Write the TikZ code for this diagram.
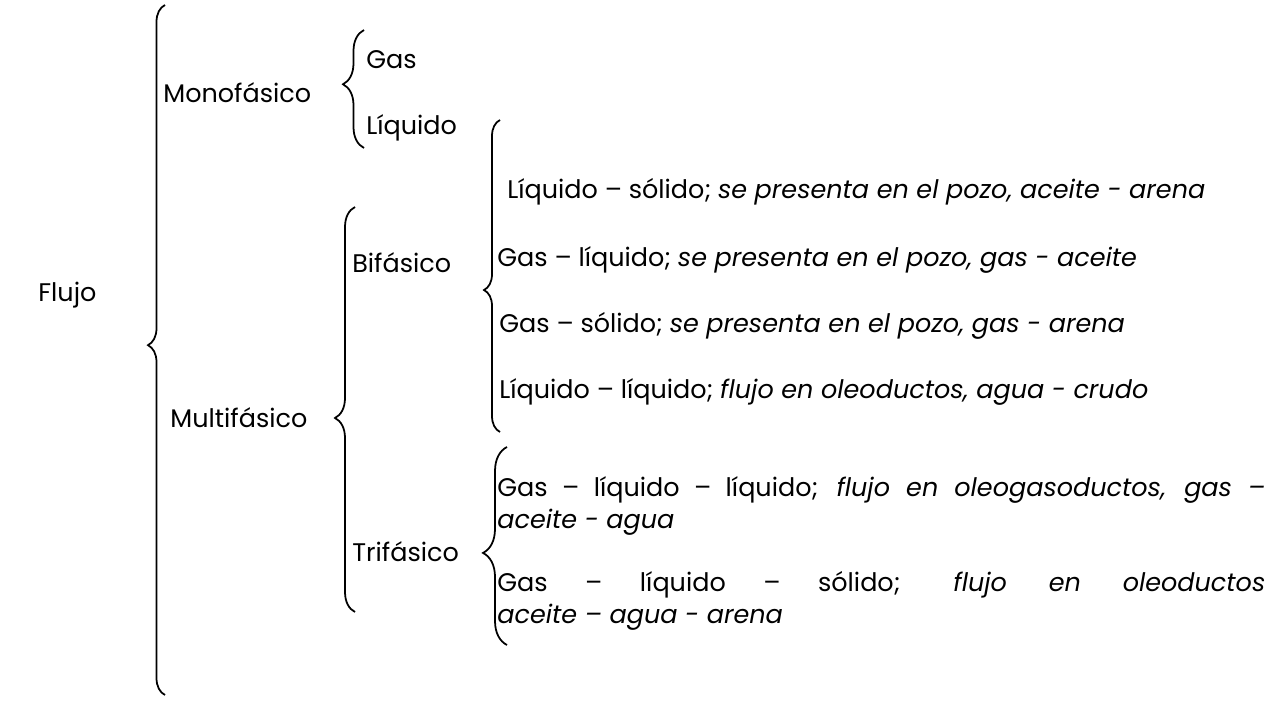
\documentclass[tikz,border=0pt]{standalone}
\usepackage{fontspec}
\setmainfont{Poppins}
\usepackage{tikz}
\usetikzlibrary{decorations.pathreplacing}

\begin{document}
\begin{tikzpicture}
\tikzset{item/.style = {anchor=west,inner sep=0pt,font=\fontsize{14.5}{18.1}\selectfont}}
\tikzset{par/.style = {item,text width=15.36cm,align=justify}}
\tikzset{llave/.style = {decorate,line width=1pt}}
\useasboundingbox (0,0) rectangle (25.58,14);
% vertices
\node[item] (flujo) at (0.76,8.10) {Flujo};
\node[item] (mono)  at (3.26,12.14) {Monofásico};
\node[item] (multi) at (3.40,5.64) {Multifásico};
\node[item] (gas)   at (7.32,12.80) {Gas};
\node[item] (liq)   at (7.32,11.44) {Líquido};
\node[item] (bi)    at (7.04,8.74) {Bifásico};
\node[item] (tri)   at (7.04,2.96) {Trifásico};
\node[item] (b1) at (10.14,10.16) {Líquido – sólido; \textit{se presenta en el pozo, aceite - arena}};
\node[item] (b2) at (9.94,8.80) {Gas – líquido; \textit{se presenta en el pozo, gas - aceite}};
\node[item] (b3) at (9.98,7.48) {Gas – sólido; \textit{se presenta en el pozo, gas - arena}};
\node[item] (b4) at (9.98,6.16) {Líquido – líquido; \textit{flujo en oleoductos, agua - crudo}};
\node[par] (t1) at (9.94,3.88) {Gas – líquido – líquido; \textit{flujo en oleogasoductos, gas –}\linebreak \textit{aceite - agua}};
\node[par] (t2) at (9.94,1.98) {Gas – líquido – sólido; \textit{flujo en oleoductos}\linebreak \textit{aceite – agua - arena}};
% brace ends
\coordinate (f0) at (3.30,0.10);
\coordinate (f1) at (3.30,13.90);
\coordinate (m0) at (7.28,11.04);
\coordinate (m1) at (7.28,13.40);
\coordinate (p0) at (7.10,1.76);
\coordinate (p1) at (7.10,9.86);
\coordinate (d0) at (10.00,5.36);
\coordinate (d1) at (10.00,11.60);
\coordinate (r0) at (10.14,1.10);
\coordinate (r1) at (10.14,5.06);
%edges
\draw[llave,decoration={brace,amplitude=0.34cm,aspect=0.507}] (f0) -- (f1);
\draw[llave,decoration={brace,amplitude=0.42cm,aspect=0.54}] (m0) -- (m1);
\draw[llave,decoration={brace,amplitude=0.40cm,aspect=0.479}] (p0) -- (p1);
\draw[llave,decoration={brace,amplitude=0.32cm,aspect=0.455}] (d0) -- (d1);
\draw[llave,decoration={brace,amplitude=0.48cm,aspect=0.465}] (r0) -- (r1);
\end{tikzpicture}
\end{document}
